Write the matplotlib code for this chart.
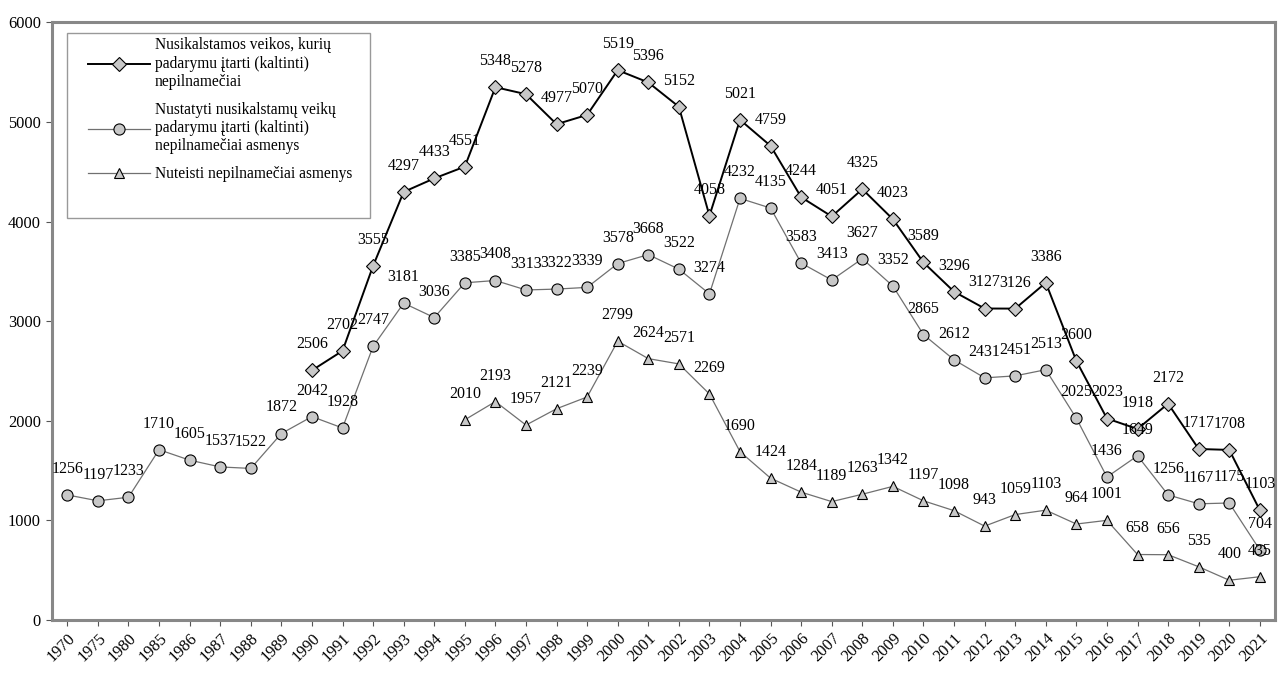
import numpy as np
import matplotlib.pyplot as plt
from matplotlib.patches import Rectangle

years = ['1970', '1975', '1980'] + [str(y) for y in range(1985, 2022)]

# series 1 starts 1990, series 3 starts 1995
veikos = [2506, 2702, 3555, 4297, 4433, 4551, 5348, 5278, 4977, 5070, 5519, 5396,
          5152, 4058, 5021, 4759, 4244, 4051, 4325, 4023, 3589, 3296, 3127, 3126,
          3386, 2600, 2023, 1918, 2172, 1717, 1708, 1103]
asmenys = [1256, 1197, 1233, 1710, 1605, 1537, 1522, 1872, 2042, 1928, 2747, 3181,
           3036, 3385, 3408, 3313, 3322, 3339, 3578, 3668, 3522, 3274, 4232, 4135,
           3583, 3413, 3627, 3352, 2865, 2612, 2431, 2451, 2513, 2025, 1436, 1649,
           1256, 1167, 1175, 704]
nuteisti = [2010, 2193, 1957, 2121, 2239, 2799, 2624, 2571, 2269, 1690, 1424, 1284,
            1189, 1263, 1342, 1197, 1098, 943, 1059, 1103, 964, 1001, 658, 656, 535,
            400, 435]

labels = ['Nusikalstamos veikos, kurių\npadarymu įtarti (kaltinti)\nnepilnamečiai',
          'Nustatyti nusikalstamų veikų\npadarymu įtarti (kaltinti)\nnepilnamečiai asmenys',
          'Nuteisti nepilnamečiai asmenys']

plt.rcParams['font.family'] = ['Liberation Serif', 'DejaVu Serif']
plt.rcParams['font.size'] = 11

fig = plt.figure(figsize=(12.88, 6.74), dpi=100)
ax = fig.add_axes([0.0404, 0.08, 0.9496, 0.887])

n = len(years)
x_all = np.arange(n)
x1 = x_all[n - len(veikos):]
x3 = x_all[n - len(nuteisti):]

fill = '#c8c8c8'
ax.plot(x1, veikos, color='black', lw=1.4, marker='D', ms=7.5, mfc=fill, mec='black',
        mew=0.8, label=labels[0], zorder=4)
ax.plot(x_all, asmenys, color='#707070', lw=0.9, marker='o', ms=8, mfc=fill, mec='black',
        mew=0.8, label=labels[1], zorder=3)
ax.plot(x3, nuteisti, color='#707070', lw=0.9, marker='^', ms=7.5, mfc=fill, mec='black',
        mew=0.8, label=labels[2], zorder=3)

for xs, ys in ((x1, veikos), (x_all, asmenys), (x3, nuteisti)):
    for xi, yi in zip(xs, ys):
        ax.annotate(str(yi), (xi, yi), xytext=(0, 13), textcoords='offset points',
                    ha='center', va='bottom', fontsize=11.5, zorder=5)

ax.set_xlim(-0.5, n - 0.5)
ax.set_ylim(0, 6000)
ax.set_yticks(range(0, 6001, 1000))
ax.set_xticks(x_all)
ax.set_xticklabels(years, rotation=45, ha='right', rotation_mode='anchor')
ax.tick_params(axis='both', direction='out', length=4.5, color='#555555', labelsize=11.8)
ax.tick_params(axis='x', pad=3)

for s in ax.spines.values():
    s.set_color('#888888')
    s.set_linewidth(2.2)

# legend box like the original (extra empty space at the bottom)
ax.add_patch(Rectangle((0.0123, 0.672), 0.2478, 0.3096, transform=ax.transAxes,
                       fill=True, facecolor='white', edgecolor='#999999', lw=1.0,
                       zorder=6))
leg = ax.legend(loc='upper left', bbox_to_anchor=(0.0294, 0.975), frameon=False,
                handlelength=4.0, handletextpad=0.3, labelspacing=0.75,
                borderpad=0, borderaxespad=0, fontsize=11.2)
leg.set_zorder(7)
for t in leg.get_texts():
    t.set_linespacing(1.2)

fig.savefig('out.png', dpi=100)
